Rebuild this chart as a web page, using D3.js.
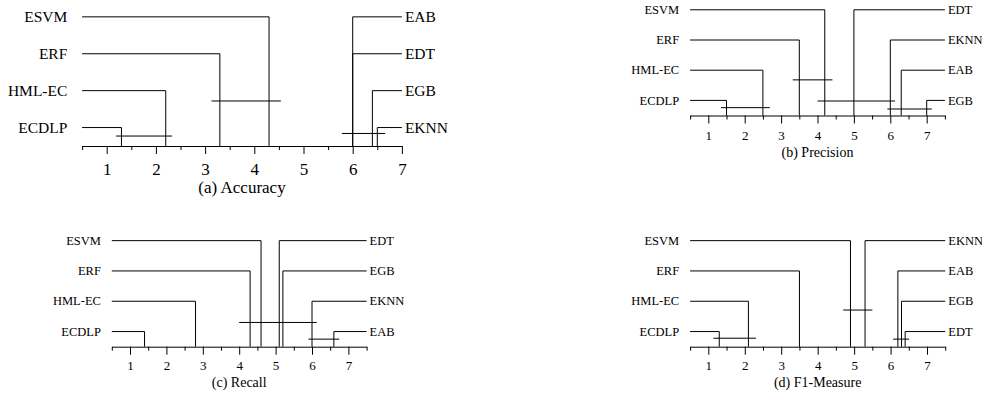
<!DOCTYPE html>
<html>
<head>
<meta charset="utf-8">
<script src="https://cdn.jsdelivr.net/npm/d3@7"></script>
<style>
  html, body { margin: 0; padding: 0; background: #fff; }
  svg { display: block; }
</style>
</head>
<body>
<svg id="chart" width="982" height="395"></svg>
<script>
// ---------------- data ----------------
const leftNames = ["ESVM", "ERF", "HML-EC", "ECDLP"];
const tickValues = [1, 2, 3, 4, 5, 6, 7];
const tickLabels = ["1", "2", "3", "4", "5", "6", "7"];
const captions = ["(a) Accuracy", "(b) Precision", "(c) Recall", "(d) F1-Measure"];

const accuracyLeftRanks = [4.3, 3.3, 2.2, 1.3];
const accuracyRightNames = ["EAB", "EDT", "EGB", "EKNN"];
const accuracyRightRanks = [6.0, 6.0, 6.4, 6.5];
const accuracyBars = [[1.19, 2.33, 0.77], [3.13, 4.54, 1.72], [5.78, 6.66, 0.84]];

const precisionLeftRanks = [4.2, 3.5, 2.5, 1.5];
const precisionRightNames = ["EDT", "EKNN", "EAB", "EGB"];
const precisionRightRanks = [5.0, 6.0, 6.3, 7.0];
const precisionBars = [[1.35, 2.69, 0.76], [3.32, 4.41, 1.68], [4.0, 6.13, 0.98], [5.92, 7.14, 0.715]];

const recallLeftRanks = [4.6, 4.3, 2.8, 1.4];
const recallRightNames = ["EDT", "EGB", "EKNN", "EAB"];
const recallRightRanks = [5.1, 5.2, 6.0, 6.6];
const recallBars = [[4.0, 6.13, 1.30], [5.9, 6.75, 0.75]];

const f1LeftRanks = [4.9, 3.5, 2.1, 1.3];
const f1RightNames = ["EKNN", "EAB", "EGB", "EDT"];
const f1RightRanks = [5.3, 6.2, 6.3, 6.4];
const f1Bars = [[1.14, 2.31, 0.78], [4.7, 5.5, 1.71], [6.07, 6.51, 0.75]];

// ---------------- layout ----------------
const panels = [
  { caption: captions[0], lr: accuracyLeftRanks, rn: accuracyRightNames, rr: accuracyRightRanks, bars: accuracyBars,
    x0: 82.1, unit: 49.2, end: 7, axisY: 146, sp: 36.9, fName: 15.5, fTick: 17, fCap: 17,
    tickBase: 29, capBase: 47, major: 8, minor: 4 },
  { caption: captions[1], lr: precisionLeftRanks, rn: precisionRightNames, rr: precisionRightRanks, bars: precisionBars,
    x0: 690.1, unit: 36.4, end: 7.5, axisY: 115.5, sp: 30.2, fName: 12.5, fTick: 13, fCap: 14,
    tickBase: 24.5, capBase: 41.5, major: 8, minor: 4 },
  { caption: captions[2], lr: recallLeftRanks, rn: recallRightNames, rr: recallRightRanks, bars: recallBars,
    x0: 111.8, unit: 36.4, end: 7.5, axisY: 346.7, sp: 30.3, fName: 12.5, fTick: 13, fCap: 14,
    tickBase: 23.5, capBase: 40.5, major: 8, minor: 4 },
  { caption: captions[3], lr: f1LeftRanks, rn: f1RightNames, rr: f1RightRanks, bars: f1Bars,
    x0: 690.1, unit: 36.45, end: 7.5, axisY: 346.7, sp: 30.3, fName: 12.5, fTick: 13, fCap: 14,
    tickBase: 23.5, capBase: 40.5, major: 8, minor: 4 }
];

const svg = d3.select("#chart");
const FONT = '"Liberation Serif"';

panels.forEach(p => {
  const g = svg.append("g");
  const x = d3.scaleLinear().domain([0.5, p.end]).range([p.x0, p.x0 + (p.end - 0.5) * p.unit]);
  const y = d3.scaleLinear().domain([0.5, 4.5]).range([p.axisY, p.axisY - 4 * p.sp]);

  // minor ticks (half values)
  const halves = d3.range(0.5, p.end + 0.01, 1);
  const minorAxis = d3.axisBottom(x).tickValues(halves).tickSizeInner(p.minor).tickSizeOuter(0).tickFormat("");
  const gm = g.append("g").attr("transform", `translate(0,${p.axisY})`).call(minorAxis);
  gm.select(".domain").attr("stroke", "#000");
  gm.selectAll(".tick line").attr("stroke", "#000");

  // major ticks
  const majorAxis = d3.axisBottom(x).tickValues(tickValues).tickSizeInner(p.major).tickSizeOuter(0)
    .tickFormat((d, i) => tickLabels[i]);
  const ga = g.append("g").attr("transform", `translate(0,${p.axisY})`).call(majorAxis);
  ga.attr("font-family", FONT).attr("font-size", p.fTick);
  ga.select(".domain").remove();
  ga.selectAll(".tick line").attr("stroke", "#000");
  ga.selectAll(".tick text")
    .attr("y", p.tickBase).attr("dy", 0)
    .attr("fill", "#000");

  // left methods
  leftNames.forEach((name, i) => {
    const lvl = 4 - i;
    const yy = y(lvl), xv = x(p.lr[i]);
    g.append("path")
      .attr("d", `M${xv},${p.axisY}V${yy}H${x(0.5)}`)
      .attr("fill", "none").attr("stroke", "#000").attr("stroke-width", 1);
    g.append("text")
      .attr("x", x(0.2)).attr("y", yy).attr("dy", "0.33em")
      .attr("text-anchor", "end")
      .attr("font-family", FONT)
      .attr("font-size", p.fName)
      .text(name);
  });

  // right methods
  p.rn.forEach((name, i) => {
    const lvl = 4 - i;
    const yy = y(lvl), xv = x(p.rr[i]);
    g.append("path")
      .attr("d", `M${xv},${p.axisY}V${yy}H${x(p.end)}`)
      .attr("fill", "none").attr("stroke", "#000").attr("stroke-width", 1);
    g.append("text")
      .attr("x", x(p.end) + 3).attr("y", yy).attr("dy", "0.33em")
      .attr("text-anchor", "start")
      .attr("font-family", FONT)
      .attr("font-size", p.fName)
      .text(name);
  });

  // CD bars
  p.bars.forEach(b => {
    g.append("line")
      .attr("x1", x(b[0])).attr("x2", x(b[1]))
      .attr("y1", y(b[2])).attr("y2", y(b[2]))
      .attr("stroke", "#000").attr("stroke-width", 1);
  });

  // caption
  g.append("text")
    .attr("x", (x(0.5) + x(p.end)) / 2).attr("y", p.axisY + p.capBase)
    .attr("text-anchor", "middle")
    .attr("font-family", FONT)
    .attr("font-size", p.fCap)
    .text(p.caption);
});
</script>
</body>
</html>
